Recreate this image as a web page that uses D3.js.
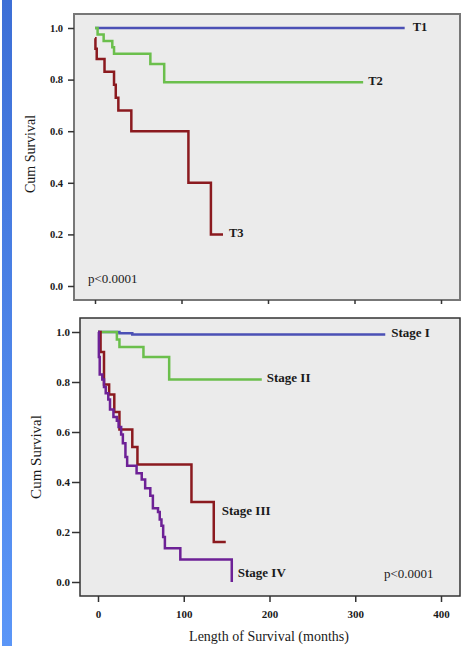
<!DOCTYPE html>
<html>
<head>
<meta charset="utf-8">
<script src="https://cdn.jsdelivr.net/npm/d3@7/dist/d3.min.js"></script>
<style>
    body { margin: 0; background: #fff; }
    svg text { font-family: "Liberation Serif", "DejaVu Serif", serif; fill: #1a1a1a; }
</style>
</head>
<body>
<div id="chart"></div>
<script>

//******************************************************************************
//**  Data
//******************************************************************************
var xTicks = [0, 100, 200, 300, 400];
var yTicks = [0, 0.2, 0.4, 0.6, 0.8, 1.0];
var pValueLabel = "p<0.0001";

//Top panel (T stage)
var t1Months = [0, 358];
var t1Surv   = [1, 1];
var t2Months = [0, 3, 10, 20, 22, 64, 80, 310];
var t2Surv   = [1, 0.975, 0.95, 0.925, 0.9, 0.86, 0.79, 0.79];
var t3Months = [0, 0.5, 2, 11, 22, 24, 27, 42, 108, 134, 148];
var t3Surv   = [0.96, 0.92, 0.88, 0.83, 0.78, 0.73, 0.68, 0.60, 0.40, 0.20, 0.20];

//Bottom panel (overall stage)
var s1Months = [0, 25, 40, 335];
var s1Surv   = [1, 0.995, 0.99, 0.99];
var s2Months = [0, 22, 25, 53, 83, 191];
var s2Surv   = [1, 0.97, 0.94, 0.90, 0.81, 0.81];
var s3Months = [0, 3, 7, 13, 19, 25, 40, 46, 109, 135, 149];
var s3Surv   = [1, 0.92, 0.79, 0.75, 0.68, 0.61, 0.54, 0.47, 0.32, 0.16, 0.16];
var s4Months = [0, 1, 2, 5, 7, 9, 12, 14, 18, 22, 24, 27, 29, 32, 34, 45, 51, 55, 61, 64, 70, 72, 74, 76, 78, 96, 156];
var s4Surv   = [1, 0.90, 0.83, 0.81, 0.78, 0.755, 0.73, 0.69, 0.66, 0.645, 0.62, 0.59, 0.555, 0.50, 0.465, 0.435, 0.41, 0.375, 0.345, 0.295, 0.28, 0.25, 0.225, 0.18, 0.135, 0.09, 0.0];


//******************************************************************************
//**  Chart
//******************************************************************************
var width = 466, height = 646;

var svg = d3.select("#chart").append("svg")
    .attr("width", width)
    .attr("height", height);


//Blue strip on the left
var grad = svg.append("defs").append("linearGradient")
    .attr("id", "strip")
    .attr("x1", 0).attr("y1", 0).attr("x2", 0).attr("y2", 1);
grad.append("stop").attr("offset", "0%").attr("stop-color", "#3d6fd6");
grad.append("stop").attr("offset", "100%").attr("stop-color", "#5b96f7");
svg.append("rect")
    .attr("x", 2).attr("y", 0)
    .attr("width", 10).attr("height", height)
    .attr("fill", "url(#strip)");


var toSeries = function(months, surv){
    return months.map(function(m, i){ return {t: m, s: surv[i]}; });
};


//**************************************************************************
//** drawPanel
//**************************************************************************
var drawPanel = function(config){

    var f = config.frame;
    var x = d3.scaleLinear().domain([0, 400]).range(config.xRange);
    var y = d3.scaleLinear().domain([0, 1]).range(config.yRange);

    var g = svg.append("g");

  //Frame + background
    g.append("rect")
        .attr("x", f.x).attr("y", f.y)
        .attr("width", f.w).attr("height", f.h)
        .attr("fill", "#ebebeb")
        .attr("stroke", config.frameColor)
        .attr("stroke-width", config.frameWidth);

  //Y axis
    var yAxis = g.append("g")
        .attr("transform", "translate(" + f.x + ",0)")
        .call(d3.axisLeft(y)
            .tickValues(yTicks)
            .tickSize(config.yTickSize)
            .tickPadding(config.yTickPad)
            .tickFormat(d3.format(".1f")));
    yAxis.select(".domain").remove();
    yAxis.selectAll("line").attr("stroke", "#333").attr("stroke-width", 1.5);
    yAxis.selectAll("text")
        .attr("font-family", "Liberation Serif")
        .attr("font-weight", "bold")
        .attr("font-size", config.tickFont)
        .attr("fill", "#1a1a1a");

  //X axis
    var xAxis = g.append("g")
        .attr("transform", "translate(0," + (f.y + f.h) + ")")
        .call(d3.axisBottom(x)
            .tickValues(xTicks)
            .tickSize(config.xTickSize)
            .tickPadding(8)
            .tickFormat(config.xLabels ? d3.format("d") : ""));
    xAxis.select(".domain").remove();
    xAxis.selectAll("line").attr("stroke", "#333").attr("stroke-width", 1.5);
    xAxis.selectAll("text")
        .attr("font-family", "Liberation Serif")
        .attr("font-weight", "bold")
        .attr("font-size", config.tickFont)
        .attr("fill", "#1a1a1a");

  //Curves
    var line = d3.line()
        .curve(d3.curveStepAfter)
        .x(function(d){ return x(d.t); })
        .y(function(d){ return y(d.s); });

    config.series.forEach(function(s){
        var data = toSeries(s.months, s.surv);
        g.append("path")
            .attr("d", line(data))
            .attr("fill", "none")
            .attr("stroke", s.color)
            .attr("stroke-width", 2.5);

        var last = data[data.length-1];
        g.append("text")
            .attr("x", x(last.t) + s.dx)
            .attr("y", y(last.s) + s.dy)
            .attr("dominant-baseline", "middle")
            .attr("font-size", config.labelFont)
            .attr("font-weight", "bold")
            .text(s.name);
    });

  //p value
    g.append("text")
        .attr("x", config.pPos[0])
        .attr("y", config.pPos[1])
        .attr("font-size", 13)
        .text(pValueLabel);

  //Y title
    g.append("text")
        .attr("transform", "translate(" + config.yTitle[0] + "," + config.yTitle[1] + ") rotate(-90)")
        .attr("text-anchor", "middle")
        .attr("dominant-baseline", "middle")
        .attr("font-size", config.yTitle[2])
        .text("Cum Survival");
};


drawPanel({
    frame: {x: 74, y: 14, w: 386, h: 286},
    frameColor: "#777",
    frameWidth: 2,
    xRange: [95, 441],
    yRange: [286, 28],
    yTickSize: 6,
    yTickPad: 5,
    xTickSize: 4,
    xLabels: false,
    tickFont: 10.5,
    labelFont: 12.5,
    pPos: [88, 283],
    yTitle: [32, 154, 14],
    series: [
        {name: "T1", months: t1Months, surv: t1Surv, color: "#4b50b5", dx: 8, dy: 0},
        {name: "T2", months: t2Months, surv: t2Surv, color: "#6bbf4c", dx: 5, dy: 0},
        {name: "T3", months: t3Months, surv: t3Surv, color: "#8b1a1f", dx: 6, dy: 0}
    ]
});

drawPanel({
    frame: {x: 80, y: 318, w: 380, h: 278},
    frameColor: "#333",
    frameWidth: 1.5,
    xRange: [98, 441],
    yRange: [582, 332],
    yTickSize: 8,
    yTickPad: 2,
    xTickSize: 6,
    xLabels: true,
    tickFont: 11,
    labelFont: 13,
    pPos: [384, 578],
    yTitle: [38, 457, 15],
    series: [
        {name: "Stage I",   months: s1Months, surv: s1Surv, color: "#4b50b5", dx: 6, dy: 0},
        {name: "Stage II",  months: s2Months, surv: s2Surv, color: "#6bbf4c", dx: 5, dy: 0},
        {name: "Stage III", months: s3Months, surv: s3Surv, color: "#8b1a1f", dx: -4, dy: -30},
        {name: "Stage IV",  months: s4Months, surv: s4Surv, color: "#6d2196", dx: 6, dy: -8}
    ]
});


//X title
svg.append("text")
    .attr("x", 269)
    .attr("y", 641)
    .attr("text-anchor", "middle")
    .attr("font-size", 14)
    .text("Length of Survival (months)");

</script>
</body>
</html>
